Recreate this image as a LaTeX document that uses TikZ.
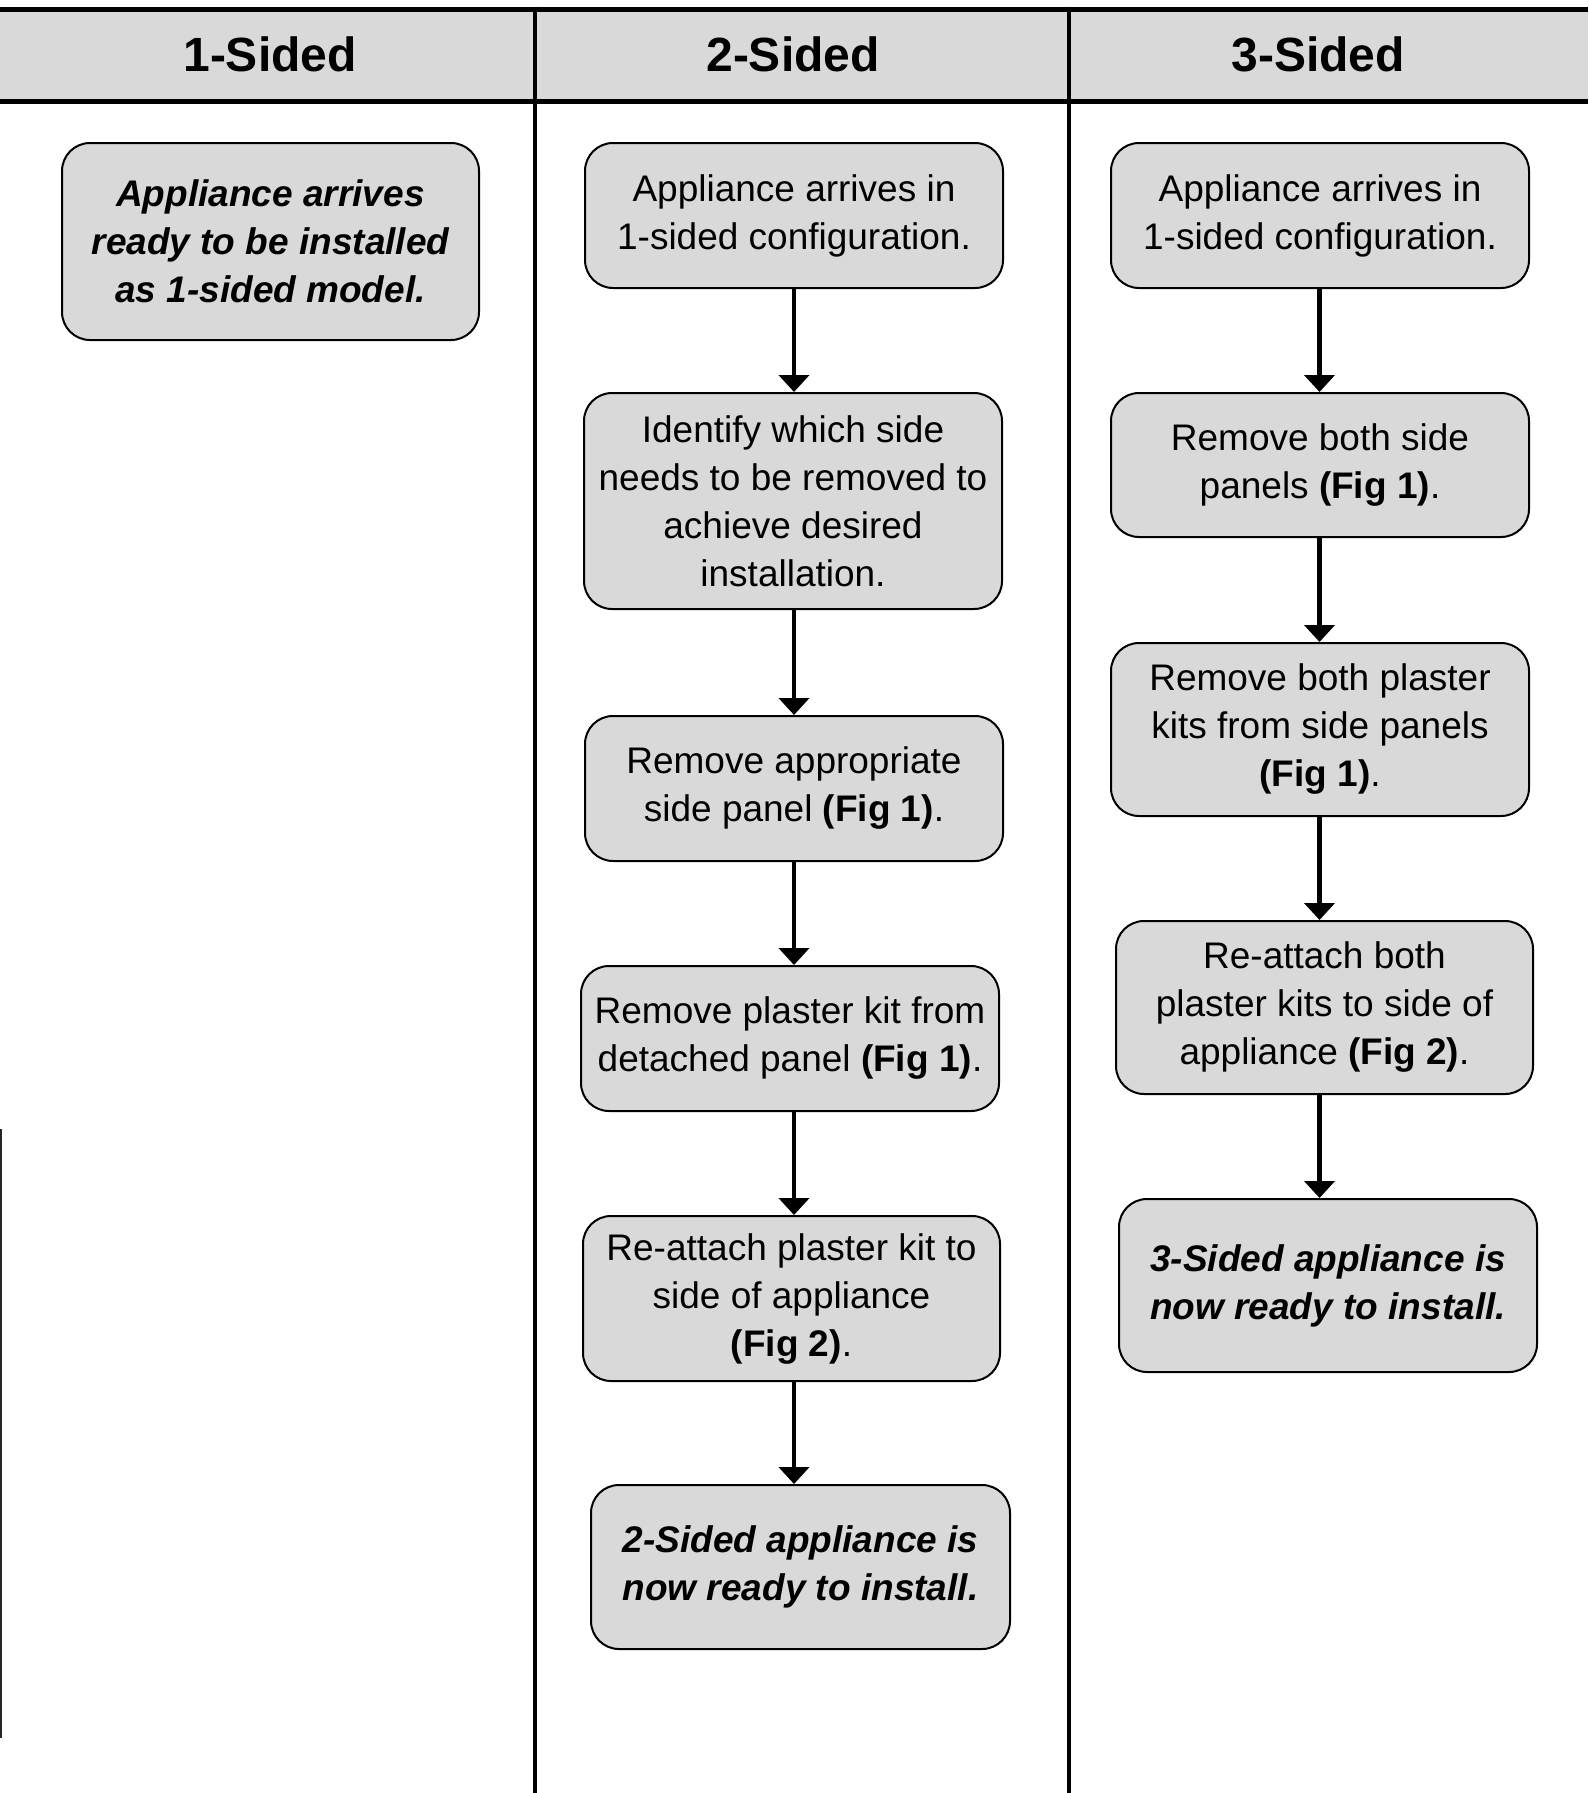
\documentclass[tikz,border=0pt]{standalone}
\usepackage{fontspec}
\setmainfont{Liberation Sans}
\usetikzlibrary{arrows.meta}
\definecolor{boxgray}{HTML}{D9D9D9}
\begin{document}
\begin{tikzpicture}[x=1pt,y=-1pt,
  box/.style={draw=black, line width=2pt, fill=boxgray, rounded corners=28pt,
    align=center, inner sep=0pt, font={\fontsize{37}{48}\selectfont}},
  w/.style={minimum width=#1pt},
  h/.style={minimum height=#1pt},
  arr/.style={line width=4.3pt, -{Triangle[width=30pt,length=17pt]}},
  frame/.style={line width=5pt, black},
  head/.style={font={\fontsize{48}{56}\selectfont\bfseries}, inner sep=0pt}
]
\useasboundingbox (0,0) rectangle (1588,1793);
% header band
\fill[boxgray] (0,9.5) rectangle (1588,101.5);
\draw[frame] (0,9.5) -- (1588,9.5);
\draw[frame] (0,101.5) -- (1588,101.5);
\draw[line width=4.5pt] (535,7) -- (535,1793);
\draw[line width=4.5pt] (1069,7) -- (1069,1793);
\draw[line width=2.5pt, black!85] (1.2,1129) -- (1.2,1738);
\node[head] (h1) at (270,54) {1-Sided};
\node[head] (h2) at (793,54) {2-Sided};
\node[head] (h3) at (1318,54) {3-Sided};

% column 1
\node[box, w=417, h=197, font={\fontsize{37}{48}\selectfont\bfseries\itshape}] (A1) at (270.5,241.5)
  {Appliance arrives\\ready to be installed\\as 1-sided model.};

% column 2
\node[box, w=418, h=145] (B1) at (794,215.5) {Appliance arrives in\\1-sided configuration.};
\node[box, w=418, h=216] (B2) at (793,501) {Identify which side\\needs to be removed to\\achieve desired\\installation.};
\node[box, w=418, h=145] (B3) at (794,788.5) {Remove appropriate\\side panel \textbf{(Fig 1)}.};
\node[box, w=418, h=145] (B4) at (790,1038.5) {Remove plaster kit from\\detached panel \textbf{(Fig 1)}.};
\node[box, w=417, h=165] (B5) at (791.5,1298.5) {Re-attach plaster kit to\\side of appliance\\\textbf{(Fig 2)}.};
\node[box, w=419, h=164, font={\fontsize{37}{48}\selectfont\bfseries\itshape}] (B6) at (800.5,1567)
  {2-Sided appliance is\\now ready to install.};

% column 3
\node[box, w=418, h=145] (C1) at (1320,215.5) {Appliance arrives in\\1-sided configuration.};
\node[box, w=418, h=144] (C2) at (1320,465) {Remove both side\\panels \textbf{(Fig 1)}.};
\node[box, w=418, h=173] (C3) at (1320,729.5) {Remove both plaster\\kits from side panels\\\textbf{(Fig 1)}.};
\node[box, w=417, h=173] (C4) at (1324.5,1007.5) {Re-attach both\\plaster kits to side of\\appliance \textbf{(Fig 2)}.};
\node[box, w=418, h=173, font={\fontsize{37}{48}\selectfont\bfseries\itshape}] (C5) at (1328,1285.5)
  {3-Sided appliance is\\now ready to install.};

% arrow axes
\coordinate (ax2) at (794,0);
\coordinate (ax3) at (1319.5,0);
\draw[arr] (B1.south -| ax2) -- (B2.north -| ax2);
\draw[arr] (B2.south -| ax2) -- (B3.north -| ax2);
\draw[arr] (B3.south -| ax2) -- (B4.north -| ax2);
\draw[arr] (B4.south -| ax2) -- (B5.north -| ax2);
\draw[arr] (B5.south -| ax2) -- (B6.north -| ax2);
\draw[arr] (C1.south -| ax3) -- (C2.north -| ax3);
\draw[arr] (C2.south -| ax3) -- (C3.north -| ax3);
\draw[arr] (C3.south -| ax3) -- (C4.north -| ax3);
\draw[arr] (C4.south -| ax3) -- (C5.north -| ax3);
\end{tikzpicture}
\end{document}
